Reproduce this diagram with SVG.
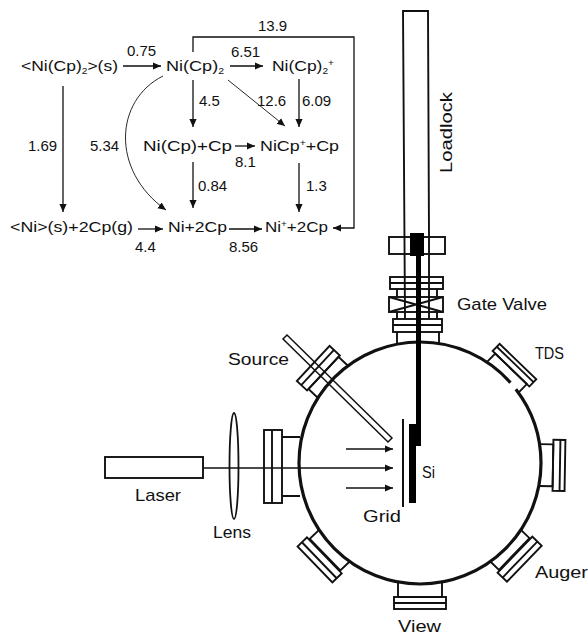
<svg xmlns="http://www.w3.org/2000/svg" width="588" height="635" viewBox="0 0 588 635">
<style>
text{font-family:"Liberation Sans",Arial,sans-serif;fill:#111}
.r{font-size:15px}
.f{font-size:15.5px}
.s{font-size:9px}
.l{font-size:17px}
.c{fill:none;stroke:#111;stroke-width:1.3}
.t{fill:none;stroke:#111;stroke-width:.9}
.a{marker-end:url(#ah)}
.p{fill:none;stroke:#111;stroke-width:1.9}
.b{fill:#000;stroke:none}
</style>
<defs>
<marker id="ah" markerUnits="userSpaceOnUse" markerWidth="9" markerHeight="8" refX="8" refY="4" orient="auto"><path d="M0,.4 L8,4 L0,7.600 Z" fill="#111"/></marker>
</defs>
<rect width="588" height="635" fill="#fff"/>
<g id="connectors">
<path class="c a" d="M123,66 H161"/>
<path class="c a" d="M230,66 H263"/>
<path class="c a" d="M193,52 V37 H354 V228 H333"/>
<path class="c a" d="M193,80 V127"/>
<path class="t a" d="M228,80 L285,126"/>
<path class="c a" d="M299,79 V127"/>
<path class="c a" d="M63,86 V212"/>
<path class="t a" d="M163,76 C115,100 110,170 166,210"/>
<path class="c a" d="M235,146 H255"/>
<path class="c a" d="M193,162 V208"/>
<path class="c a" d="M299,163 V212"/>
<path class="c a" d="M138,229 H163"/>
<path class="c a" d="M229,229 H262"/>
</g>
<g id="rates" class="r">
<text x="258" y="31">13.9</text>
<text x="127" y="56">0.75</text>
<text x="231" y="57">6.51</text>
<text x="199" y="106">4.5</text>
<text x="257" y="106">12.6</text>
<text x="302" y="106">6.09</text>
<text x="28" y="151">1.69</text>
<text x="90" y="151">5.34</text>
<text x="235" y="167">8.1</text>
<text x="198" y="191">0.84</text>
<text x="306" y="191">1.3</text>
<text x="135" y="252">4.4</text>
<text x="229" y="252">8.56</text>
</g>
<g id="n-solid" class="f"><text x="21" y="71" textLength="97" lengthAdjust="spacingAndGlyphs">&lt;Ni(Cp)<tspan class="s" dy="3">2</tspan><tspan dy="-3">&gt;(s)</tspan></text></g>
<g id="n-nicp2" class="f"><text x="166" y="71" textLength="58" lengthAdjust="spacingAndGlyphs">Ni(Cp)<tspan class="s" dy="3">2</tspan></text></g>
<g id="n-nicp2plus" class="f"><text x="272" y="71" textLength="62" lengthAdjust="spacingAndGlyphs">Ni(Cp)<tspan class="s" dy="3">2</tspan><tspan class="s" dy="-8">+</tspan></text></g>
<g id="n-nicp-cp" class="f"><text x="143" y="151" textLength="89" lengthAdjust="spacingAndGlyphs">Ni(Cp)+Cp</text></g>
<g id="n-nicpplus-cp" class="f"><text x="260" y="151" textLength="79" lengthAdjust="spacingAndGlyphs">NiCp<tspan class="s" dy="-5">+</tspan><tspan dy="5">+Cp</tspan></text></g>
<g id="n-ni-solid" class="f"><text x="10" y="232" textLength="123" lengthAdjust="spacingAndGlyphs">&lt;Ni&gt;(s)+2Cp(g)</text></g>
<g id="n-ni-2cp" class="f"><text x="168" y="232" textLength="59" lengthAdjust="spacingAndGlyphs">Ni+2Cp</text></g>
<g id="n-niplus-2cp" class="f"><text x="265" y="232" textLength="63" lengthAdjust="spacingAndGlyphs">Ni<tspan class="s" dy="-5">+</tspan><tspan dy="5">+2Cp</tspan></text></g>

<g id="ports">
<g id="port-tds" transform="rotate(44 420 463)"><path class="p" d="M398,344 V332 H442 V344"/><rect class="p" x="394.500" y="322" width="51" height="10"/><path class="p" d="M394.500,326 H445.500"/></g>
<g id="port-right" transform="rotate(91 420 463)"><path class="p" d="M399,344 V330 H441 V344"/><rect class="p" x="394.500" y="318" width="51" height="12"/><path class="p" d="M394.500,323 H445.500"/></g>
<g id="port-auger" transform="rotate(134 420 463)"><path class="p" d="M398,344 V332 H442 V344"/><rect class="p" x="395" y="318" width="50" height="13"/><path class="p" d="M395,324 H445"/></g>
<g id="port-view" transform="rotate(180 420 463)"><path class="p" d="M398,344 V329 H442 V344"/><rect class="p" x="394" y="317" width="52" height="12"/><path class="p" d="M394,323 H446"/></g>
<g id="port-lowerleft" transform="rotate(226 420 463)"><path class="p" d="M398,344 V331 H442 V344"/><rect class="p" x="395" y="317" width="50" height="13"/><path class="p" d="M395,323 H445"/></g>
<g id="port-source" transform="rotate(313 420 463)"><path class="p" d="M398,344 V331 H442 V344"/><rect class="p" x="396" y="317" width="48" height="14"/><path class="p" d="M396,323 H444"/></g>
<g id="port-laser"><path class="p" d="M282,437 H300 M282,496 H300"/><rect class="p" x="264" y="430" width="18" height="73"/><path class="p" d="M272,430 V503"/></g>
</g>

<g id="chamber"><circle cx="420" cy="463" r="121" pathLength="360" stroke-dasharray="318.400 4 37.600" fill="none" stroke="#111" stroke-width="3.200"/></g>

<g id="loadlock">
<path class="p" d="M405,319 L403,11 H428 L429,237 V319"/>
<rect class="p" x="389" y="237" width="56" height="17"/>
<rect class="b" x="410" y="233" width="14" height="23"/>
</g>
<g id="gate-valve">
<rect class="p" x="390" y="277" width="53" height="12"/><path class="p" d="M390,283 H443"/>
<path class="p" d="M397,289 V297 M437,289 V297 M397,312 V319 M437,312 V319"/>
<rect class="p" x="389" y="297" width="54" height="15"/>
<path class="p" d="M389,297 L443,312 M443,297 L389,312"/>
<rect class="p" x="393" y="319" width="49" height="13"/><path class="p" d="M393,325 H442"/>
<path class="p" d="M397,332 V344 M439,332 V344"/>
</g>
<g id="sample">
<rect class="b" x="416" y="254" width="5" height="192"/>
<rect class="b" x="409" y="424" width="12" height="22"/>
<rect class="b" x="409" y="424" width="7" height="79"/>
</g>
<g id="grid"><path d="M403,419 V507" stroke="#111" stroke-width="2" fill="none"/></g>
<g id="source"><path d="M287,335 L392,438 L388,442 L283,339 Z" fill="none" stroke="#111" stroke-width="1.500"/></g>
<g id="laser"><rect class="p" x="105" y="457" width="98" height="21"/></g>
<g id="lens"><ellipse cx="234" cy="466" rx="4.500" ry="53" fill="none" stroke="#111" stroke-width="1.800"/></g>
<g id="beams">
<path class="c a" d="M203,468 H393"/>
<path class="c a" d="M346,449 H393"/>
<path class="c a" d="M346,488 H393"/>
</g>
<g id="labels" class="l">
<text transform="translate(452 173) rotate(-90)" textLength="81" lengthAdjust="spacingAndGlyphs">Loadlock</text>
<text x="457" y="310" textLength="90" lengthAdjust="spacingAndGlyphs">Gate Valve</text>
<text x="228" y="365" textLength="61" lengthAdjust="spacingAndGlyphs">Source</text>
<text x="535" y="359" textLength="29" lengthAdjust="spacingAndGlyphs">TDS</text>
<text x="422" y="478" textLength="13" lengthAdjust="spacingAndGlyphs">Si</text>
<text x="363" y="522" textLength="38" lengthAdjust="spacingAndGlyphs">Grid</text>
<text x="535" y="578" textLength="53" lengthAdjust="spacingAndGlyphs">Auger</text>
<text x="398" y="632" textLength="43" lengthAdjust="spacingAndGlyphs">View</text>
<text x="135" y="501" textLength="46" lengthAdjust="spacingAndGlyphs">Laser</text>
<text x="213" y="538" textLength="38" lengthAdjust="spacingAndGlyphs">Lens</text>
</g>
</svg>
